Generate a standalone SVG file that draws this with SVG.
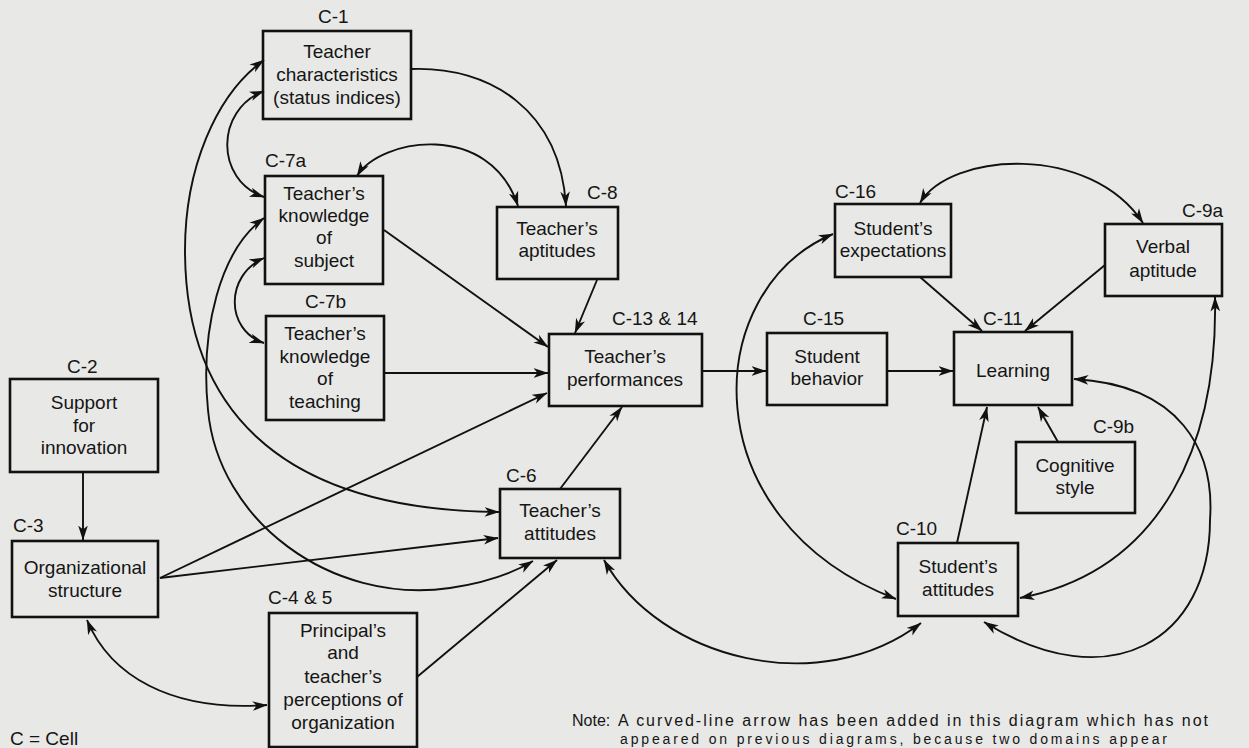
<svg xmlns="http://www.w3.org/2000/svg" width="1249" height="748" viewBox="0 0 1249 748">
<defs>
<marker id="ah" viewBox="0 0 14 10" refX="13.5" refY="5" markerWidth="15" markerHeight="11" markerUnits="userSpaceOnUse" orient="auto-start-reverse">
<path d="M0,0.5 L14,5 L0,9.5 L3.8,5 Z" fill="#111"/>
</marker>
<style>
.bg{fill:#e8e8e6}
.box{fill:#e8e8e6;stroke:#111;stroke-width:2.6}
.t{font-family:"Liberation Sans",Arial,Helvetica,sans-serif;font-size:19px;fill:#151515;text-anchor:middle}
.lb{font-family:"Liberation Sans",Arial,Helvetica,sans-serif;font-size:19px;fill:#151515}
.nt{font-family:"Liberation Sans",Arial,Helvetica,sans-serif;font-size:16px;fill:#151515}
.nt2{font-family:"Liberation Sans",Arial,Helvetica,sans-serif;font-size:14px;fill:#151515}
.c{fill:none;stroke:#111;stroke-width:1.9}
.a{marker-end:url(#ah)}
.b{marker-start:url(#ah);marker-end:url(#ah)}
</style>
</defs>
<rect class="bg" x="0" y="0" width="1249" height="748"/>

<g id="nodes">
<g id="c1">
<text class="lb" x="318" y="23">C-1</text>
<rect class="box" x="263" y="31" width="148" height="88"/>
<text class="t" x="337" y="58">Teacher</text>
<text class="t" x="337" y="81">characteristics</text>
<text class="t" x="337" y="104">(status indices)</text>
</g>
<g id="c7a">
<text class="lb" x="265" y="167">C-7a</text>
<rect class="box" x="265" y="176" width="118" height="108"/>
<text class="t" x="324" y="200">Teacher’s</text>
<text class="t" x="324" y="222">knowledge</text>
<text class="t" x="324" y="244">of</text>
<text class="t" x="324" y="267">subject</text>
</g>
<g id="c7b">
<text class="lb" x="305" y="308">C-7b</text>
<rect class="box" x="266" y="316" width="118" height="104"/>
<text class="t" x="325" y="340">Teacher’s</text>
<text class="t" x="325" y="363">knowledge</text>
<text class="t" x="325" y="385">of</text>
<text class="t" x="325" y="408">teaching</text>
</g>
<g id="c8">
<text class="lb" x="587" y="199">C-8</text>
<rect class="box" x="497" y="207" width="121" height="72"/>
<text class="t" x="557" y="235">Teacher’s</text>
<text class="t" x="557" y="257">aptitudes</text>
</g>
<g id="c13">
<text class="lb" x="612" y="325">C-13 &amp; 14</text>
<rect class="box" x="549" y="334" width="153" height="72"/>
<text class="t" x="625" y="363">Teacher’s</text>
<text class="t" x="625" y="386">performances</text>
</g>
<g id="c6">
<text class="lb" x="506" y="482">C-6</text>
<rect class="box" x="500" y="489" width="120" height="69"/>
<text class="t" x="560" y="517">Teacher’s</text>
<text class="t" x="560" y="540">attitudes</text>
</g>
<g id="c2">
<text class="lb" x="67" y="373">C-2</text>
<rect class="box" x="10" y="379" width="148" height="93"/>
<text class="t" x="84" y="409">Support</text>
<text class="t" x="84" y="432">for</text>
<text class="t" x="84" y="454">innovation</text>
</g>
<g id="c3">
<text class="lb" x="13" y="532">C-3</text>
<rect class="box" x="12" y="541" width="146" height="76"/>
<text class="t" x="85" y="574">Organizational</text>
<text class="t" x="85" y="597">structure</text>
</g>
<g id="c45">
<text class="lb" x="268" y="604">C-4 &amp; 5</text>
<rect class="box" x="269" y="613" width="148" height="134"/>
<text class="t" x="343" y="637">Principal’s</text>
<text class="t" x="343" y="659">and</text>
<text class="t" x="343" y="683">teacher’s</text>
<text class="t" x="343" y="706">perceptions of</text>
<text class="t" x="343" y="729">organization</text>
</g>
<g id="c15">
<text class="lb" x="803" y="325">C-15</text>
<rect class="box" x="767" y="333" width="120" height="72"/>
<text class="t" x="827" y="363">Student</text>
<text class="t" x="827" y="385">behavior</text>
</g>
<g id="c16">
<text class="lb" x="835" y="198">C-16</text>
<rect class="box" x="835" y="204" width="116" height="73"/>
<text class="t" x="893" y="235">Student’s</text>
<text class="t" x="893" y="257">expectations</text>
</g>
<g id="c11">
<text class="lb" x="983" y="325">C-11</text>
<rect class="box" x="954" y="332" width="118" height="73"/>
<text class="t" x="1013" y="377">Learning</text>
</g>
<g id="c9a">
<text class="lb" x="1182" y="217">C-9a</text>
<rect class="box" x="1105" y="224" width="117" height="72"/>
<text class="t" x="1163" y="253">Verbal</text>
<text class="t" x="1163" y="277">aptitude</text>
</g>
<g id="c9b">
<text class="lb" x="1093" y="433">C-9b</text>
<rect class="box" x="1016" y="442" width="119" height="71"/>
<text class="t" x="1075" y="472">Cognitive</text>
<text class="t" x="1075" y="494">style</text>
</g>
<g id="c10">
<text class="lb" x="896" y="535">C-10</text>
<rect class="box" x="898" y="543" width="120" height="73"/>
<text class="t" x="958" y="573">Student’s</text>
<text class="t" x="958" y="596">attitudes</text>
</g>
</g>

<g id="connectors">
<path class="c a" d="M411,69 C490,66 560,110 566,206"/>
<path class="c b" d="M357,176 C380,138 490,120 518,206"/>
<path class="c b" d="M264,91 C215,110 215,180 264,197"/>
<path class="c b" d="M264,60 C215,95 185,170 185,250 C185,400 270,510 499,512"/>
<path class="c b" d="M264,218 C220,250 200,330 208,410 C218,520 330,605 450,588 C490,582 515,572 533,561"/>
<path class="c b" d="M264,258 C225,275 225,330 264,343"/>
<path class="c a" d="M83,472 L83,540"/>
<path class="c a" d="M160,578 L547,393"/>
<path class="c a" d="M160,578 L498,538"/>
<path class="c b" d="M87,620 C110,675 170,712 267,705"/>
<path class="c a" d="M417,677 L557,560"/>
<path class="c a" d="M384,230 L548,347"/>
<path class="c a" d="M384,373 L548,373"/>
<path class="c a" d="M597,280 L575,333"/>
<path class="c a" d="M560,489 L622,407"/>
<path class="c b" d="M604,560 C660,660 820,700 921,623"/>
<path class="c a" d="M702,371 L766,371"/>
<path class="c a" d="M887,371 L953,371"/>
<path class="c a" d="M920,277 L982,331"/>
<path class="c a" d="M1105,265 L1025,331"/>
<path class="c a" d="M1058,442 L1038,407"/>
<path class="c a" d="M957,543 L987,407"/>
<path class="c b" d="M920,203 C950,152 1090,143 1143,223"/>
<path class="c b" d="M833,234 C700,290 690,520 896,599"/>
<path class="c b" d="M1215,297 C1218,440 1165,570 1020,598"/>
<path class="c b" d="M1074,379 C1180,385 1215,450 1210,520 C1210,640 1110,700 984,622"/>
</g>

<g id="notes">
<text class="lb" x="10" y="745">C = Cell</text>
<text class="nt" x="572" y="726">Note:</text>
<text class="nt" x="618" y="726" textLength="590" lengthAdjust="spacing">A curved-line arrow has been added in this diagram which has not</text>
<text class="nt2" x="620" y="744" textLength="547" lengthAdjust="spacing">appeared on previous diagrams, because two domains appear</text>
</g>
</svg>
